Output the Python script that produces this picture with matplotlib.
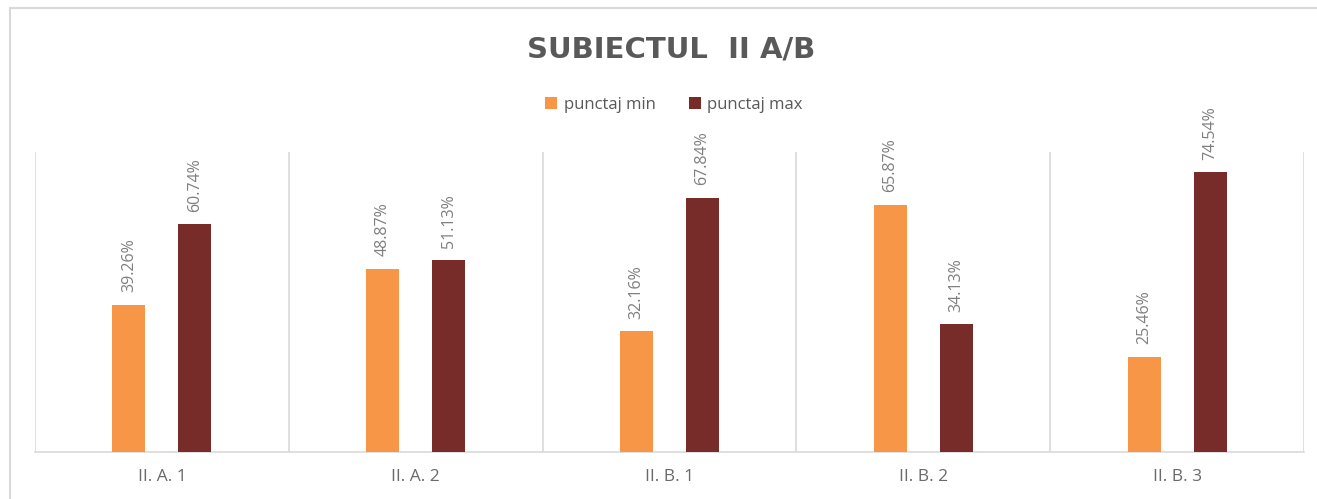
import matplotlib.pyplot as plt
from matplotlib.patches import Rectangle
import numpy as np

categories = ['II. A. 1', 'II. A. 2', 'II. B. 1', 'II. B. 2', 'II. B. 3']
punctaj_min = [39.26, 48.87, 32.16, 65.87, 25.46]
punctaj_max = [60.74, 51.13, 67.84, 34.13, 74.54]
series_names = ['punctaj min', 'punctaj max']

ORANGE = '#F79646'
DARKRED = '#772C2A'
GRID = '#D9D9D9'
TEXT = '#595959'

plt.rcParams['font.family'] = ['Open Sans', 'DejaVu Sans']

fig = plt.figure(figsize=(13.17, 4.99), dpi=100)
fig.patches.append(Rectangle((10 / 1317, -0.1), 1.2, 1 - 8 / 499 + 0.1,
                             transform=fig.transFigure, fill=False,
                             edgecolor=GRID, linewidth=1.5))

ax = fig.add_axes([35 / 1317, 1 - 452 / 499, (1304 - 35) / 1317, 300 / 499])

x = np.arange(len(categories))
w = 0.13
off = 0.13
b1 = ax.bar(x - off, punctaj_min, w, color=ORANGE, label=series_names[0], zorder=3)
b2 = ax.bar(x + off, punctaj_max, w, color=DARKRED, label=series_names[1], zorder=3)

for bars in (b1, b2):
    for rect in bars:
        h = rect.get_height()
        ax.annotate(f'{h:.2f}%', (rect.get_x() + rect.get_width() / 2, h),
                    xytext=(0, 9), textcoords='offset points',
                    rotation=90, ha='center', va='bottom',
                    fontsize=11.5, color='#7F7F7F')

ax.set_xlim(-0.5, len(categories) - 0.5)
ax.set_ylim(0, 80)
for xv in np.arange(-0.5, len(categories), 1.0):
    ax.axvline(xv, color=GRID, linewidth=1.2, zorder=1)

for s in ('top', 'right', 'left'):
    ax.spines[s].set_visible(False)
ax.spines['bottom'].set_color(GRID)
ax.spines['bottom'].set_linewidth(1.2)
ax.set_yticks([])
ax.set_xticks(x)
ax.set_xticklabels(categories, fontsize=12.5, color='#6A6A6A')
ax.tick_params(axis='x', length=0, pad=12)

fig.text(0.5093, 1 - 50 / 499, 'SUBIECTUL  II A/B', ha='center', va='center',
         fontsize=21, fontweight='bold', color=TEXT, family='DejaVu Sans')

fig.legend(handles=[b1, b2], labels=series_names, loc='center',
           bbox_to_anchor=(674 / 1317, 1 - 105 / 499), ncol=2, frameon=False,
           fontsize=12, labelcolor=TEXT, handlelength=0.7, handleheight=0.7,
           handletextpad=0.4, columnspacing=2.0)

fig.savefig('out.png', dpi=100, facecolor='white')
